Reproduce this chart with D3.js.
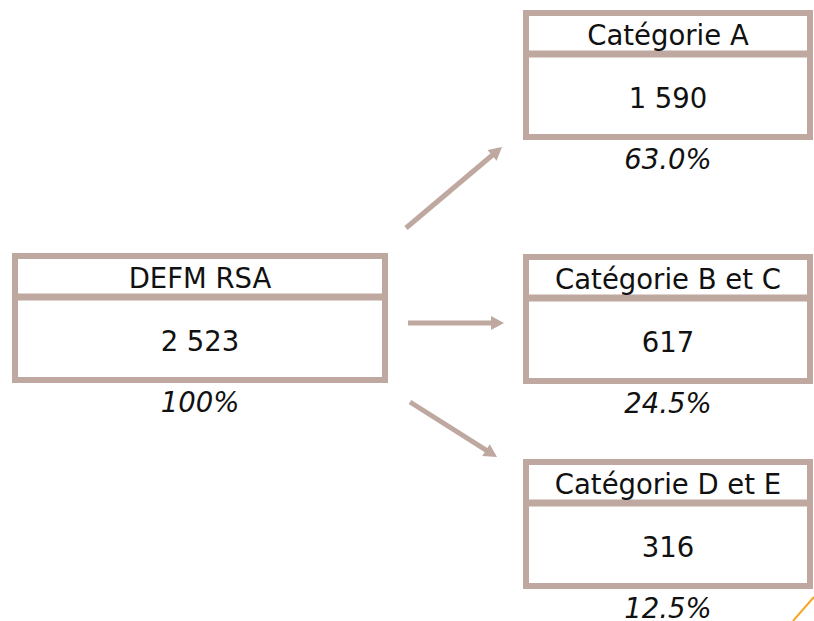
<!DOCTYPE html>
<html>
<head>
<meta charset="utf-8">
<script src="https://cdn.jsdelivr.net/npm/d3@7"></script>
<style>
  body { margin: 0; background: #fff; }
  text { font-family: "DejaVu Sans", sans-serif; fill: #111; }
</style>
</head>
<body>
<div id="chart"></div>
<script>
// data
const sourceLabel = "DEFM RSA";
const sourceValue = "2 523";
const sourcePct = "100%";

const categories = ["Catégorie A", "Catégorie B et C", "Catégorie D et E"];
const values = ["1 590", "617", "316"];
const percents = ["63.0%", "24.5%", "12.5%"];

// layout
const W = 814, H = 621;
const color = "#bfa89f";
const border = 6;
const boxH = 130;
const headH = 44; // center of divider line from box top
const fontSize = 27.5;

const svg = d3.select("#chart")
  .append("svg")
  .attr("width", W)
  .attr("height", H);

// vertical position of each target box
const yTarget = d3.scaleOrdinal()
  .domain(categories)
  .range([10, 254, 459]);

const leftBox = { x: 12, w: 376, y: 253 };
const rightX = 523, rightW = 290;

function drawBox(g, x, y, w, label, value, pct) {
  g.append("rect")
    .attr("x", x + border / 2)
    .attr("y", y + border / 2)
    .attr("width", w - border)
    .attr("height", boxH - border)
    .attr("fill", "#fff")
    .attr("stroke", color)
    .attr("stroke-width", border);

  g.append("line")
    .attr("x1", x)
    .attr("x2", x + w)
    .attr("y1", y + headH)
    .attr("y2", y + headH)
    .attr("stroke", color)
    .attr("stroke-width", border + 1);

  g.append("text")
    .attr("x", x + w / 2)
    .attr("y", y + 35)
    .attr("text-anchor", "middle")
    .style("font-size", fontSize + "px")
    .text(label);

  g.append("text")
    .attr("x", x + w / 2)
    .attr("y", y + 98)
    .attr("text-anchor", "middle")
    .style("font-size", fontSize + "px")
    .text(value);

  g.append("text")
    .attr("x", x + w / 2)
    .attr("y", y + 159)
    .attr("text-anchor", "middle")
    .style("font-size", fontSize + "px")
    .style("font-style", "italic")
    .text(pct);
}

drawBox(svg.append("g"), leftBox.x, leftBox.y, leftBox.w, sourceLabel, sourceValue, sourcePct);

categories.forEach((c, i) => {
  drawBox(svg.append("g"), rightX, yTarget(c), rightW, c, values[i], percents[i]);
});

// arrows from source to each category
const arrows = [
  { x1: 406, y1: 228, x2: 502, y2: 147 },
  { x1: 408, y1: 323, x2: 504, y2: 323 },
  { x1: 410, y1: 402, x2: 497, y2: 457 }
];

const headLen = 13, headW = 7;
arrows.forEach(a => {
  const ang = Math.atan2(a.y2 - a.y1, a.x2 - a.x1);
  const bx = a.x2 - headLen * Math.cos(ang);
  const by = a.y2 - headLen * Math.sin(ang);
  svg.append("line")
    .attr("x1", a.x1)
    .attr("y1", a.y1)
    .attr("x2", bx + Math.cos(ang))
    .attr("y2", by + Math.sin(ang))
    .attr("stroke", color)
    .attr("stroke-width", 5);
  const px = -Math.sin(ang) * headW, py = Math.cos(ang) * headW;
  svg.append("path")
    .attr("d", `M${a.x2},${a.y2}L${bx + px},${by + py}L${bx - px},${by - py}Z`)
    .attr("fill", color);
});

// small orange stroke at the bottom right corner
svg.append("line")
  .attr("x1", 793)
  .attr("y1", 621)
  .attr("x2", 814)
  .attr("y2", 597)
  .attr("stroke", "#f5a623")
  .attr("stroke-width", 2);
</script>
</body>
</html>
